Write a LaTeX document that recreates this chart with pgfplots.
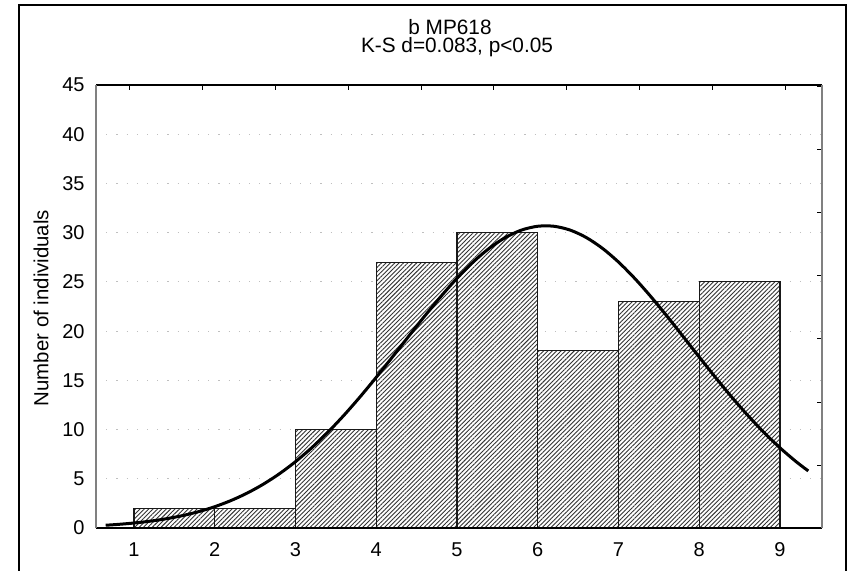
\documentclass[border=0pt]{standalone}
\usepackage{fontspec}
\setmainfont{Liberation Sans}
\usepackage{pgfplots}
\pgfplotsset{compat=1.18}
\usetikzlibrary{patterns.meta}

\begin{document}
\begin{tikzpicture}[x=1pt,y=1pt]
\useasboundingbox (-48,-21) rectangle (377,264);
% outer frame
\draw[line width=0.6pt] (-38.5,-25) -- (-38.5,261.5) -- (375,261.5) -- (375,-25);

\begin{axis}[
    at={(0,0)}, anchor=south west,
    scale only axis,
    width=363pt, height=221.5pt,
    xmin=0.53, xmax=9.52,
    ymin=0, ymax=45,
    xtick={1,2,...,9},
    ytick={0,5,...,45},
    major tick length=0pt,
    axis line style={draw=none},
    ymajorgrids=true,
    grid style={gray!50, line width=0.5pt, dash pattern=on 0.6pt off 4.5pt},
    tick label style={font=\fontsize{10}{12}\selectfont},
    /pgf/number format/assume math mode=true,
    yticklabel style={xshift=-2.2pt},
    xticklabel style={yshift=-3.7pt},
    clip=false,
]
% histogram of counts
\addplot[ybar interval, draw=black!90, line width=0.55pt, fill=white,
    postaction={pattern={Lines[angle=45, distance=1.55pt, line width=0.45pt]}, pattern color=black!80}]
coordinates {
    (1,2) (2,2) (3,10) (4,27) (5,30) (6,18) (7,23) (8,25) (9,25)
};
% fitted normal curve
\addplot[black, line width=1.5pt, smooth, no marks] coordinates {
    (0.65,0.283) (0.8,0.365) (1.0,0.507) (1.2,0.694) (1.4,0.940)
    (1.6,1.257) (1.8,1.659) (2.0,2.163) (2.2,2.785) (2.4,3.539)
    (2.6,4.442) (2.8,5.505) (3.0,6.737) (3.2,8.143) (3.4,9.717)
    (3.6,11.450) (3.8,13.323) (4.0,15.308) (4.2,17.367) (4.4,19.455)
    (4.6,21.525) (4.8,23.513) (5.0,25.364) (5.2,27.017) (5.4,28.416)
    (5.6,29.513) (5.8,30.267) (6.0,30.652) (6.2,30.652) (6.4,30.267)
    (6.6,29.513) (6.8,28.416) (7.0,27.017) (7.2,25.364) (7.4,23.513)
    (7.6,21.525) (7.8,19.455) (8.0,17.367) (8.2,15.308) (8.4,13.323)
    (8.6,11.450) (8.8,9.717) (9.0,8.143) (9.2,6.737) (9.35,5.797)
};
\end{axis}

% secondary ticks on top and right
\begin{axis}[
    at={(0,0)}, anchor=south west,
    scale only axis,
    width=363pt, height=221.5pt,
    xmin=0.53, xmax=9.52,
    ymin=0, ymax=45,
    axis x line*=top, axis y line*=right,
    axis line style={draw=none},
    xtick={0.950,1.852,2.753,3.655,4.556,5.458,6.359,7.261,8.162,9.064},
    ytick={6.4,12.8,19.2,25.6,32.0,38.4,44.8},
    xticklabels={}, yticklabels={},
    major tick length=2.5pt,
    tick align=inside,
    tick style={black, line width=0.5pt},
]
\end{axis}

% axis frame
\draw[black, line width=0.6pt] (0,221.5) -- (363,221.5);
\draw[black, line width=0.8pt] (0,0) -- (363,0);
\draw[gray, line width=1pt] (0,0) -- (0,221.5);
\draw[gray, line width=1pt] (363,0) -- (363,221.5);

% titles and label
\node[anchor=base, font=\fontsize{10.4}{12}\selectfont, inner sep=0pt] at (177,247) {b MP618};
\node[anchor=base, font=\fontsize{10.4}{12}\selectfont, inner sep=0pt] at (180.5,237.75) {K-S d=0.083, p<0.05};
\node[rotate=90, font=\fontsize{10.2}{12}\selectfont, inner sep=0pt] at (-27.5,110) {Number of individuals};
\end{tikzpicture}
\end{document}
